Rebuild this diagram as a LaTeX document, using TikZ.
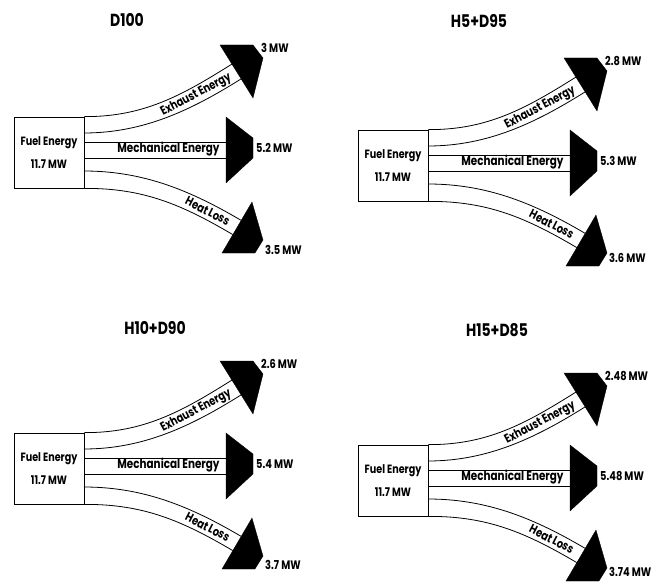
\documentclass[tikz,border=0pt]{standalone}
\usepackage{fontspec}
\setmainfont{Poppins}[FakeStretch=0.8]
\begin{document}
\begin{tikzpicture}[x=1pt,y=-1pt]
\tikzset{
  band/.style={draw=black, line width=0.8pt},
  head/.style={fill=black, draw=black, line width=0.3pt},
  lab/.style={font=\bfseries\fontsize{13}{15}\selectfont, inner sep=0pt},
  slab/.style={font=\bfseries\fontsize{12.3}{14}\selectfont, inner sep=0pt, sloped},
  mw/.style={font=\bfseries\fontsize{12.3}{14}\selectfont, anchor=west, inner sep=0pt},
  ttl/.style={font=\bfseries\fontsize{17.5}{20}\selectfont, inner sep=0pt},
  fuelbox/.style={draw, line width=0.8pt, minimum width=70pt, minimum height=71pt,
    inner sep=0pt, align=center, font=\bfseries\fontsize{12}{13}\selectfont}
}
\useasboundingbox[fill=white] (0,0) rectangle (662,583);
\newcommand\sankeypanel[7]{%
\begin{scope}[shift={(#2,#3)}]
  \node[fuelbox] (fuel#1) at (49,152.5) {Fuel Energy\\[10pt]11.7 MW};
  % arrow heads
  \filldraw[head] (220,45) -- (253,45) -- (263,58) -- (253,98) -- cycle;
  \filldraw[head] (226,117) -- (253,138) -- (253,158) -- (226,183) -- cycle;
  \filldraw[head] (252,202) -- (263,240) -- (255,253) -- (222,253) -- cycle;
  \coordinate (ex#1) at (236.5,71.5);
  \coordinate (me#1) at (226,150);
  \coordinate (he#1) at (237,227.5);
  % exhaust band
  \draw[band] (fuel#1.north east) .. controls (144,117) and (182.9,94.8) .. (231.9,64.1);
  \draw[band] (84,133) .. controls (144,133) and (192.1,109.6) .. (241.1,78.9);
  \path (84,125) .. controls (144,125) and (187.5,102.2) .. (ex#1)
     node[slab, pos=0.72] {Exhaust Energy};
  % mechanical band
  \draw[band] (84,142) -- (me#1 |- 0,142);
  \draw[band] (84,158) -- (me#1 |- 0,158);
  \node[lab] (ml#1) at (168.5,149.5) {Mechanical Energy};
  % heat band
  \draw[band] (84,171) .. controls (144,171) and (191.2,191) .. (241.2,220.4);
  \draw[band] (fuel#1.south east) .. controls (144,188) and (182.8,205.2) .. (232.8,234.6);
  \path (84,179.5) .. controls (144,179.5) and (187,198) .. (he#1)
     node[slab, pos=0.8] {Heat Loss};
  % values
  \node[mw] (v1#1) at (261,48) {#4};
  \node[mw] (v2#1) at (256,148) {#5};
  \node[mw] (v3#1) at (265,#7) {#6};
\end{scope}}
\sankeypanel{a}{0}{0}{3 MW}{5.2 MW}{3.5 MW}{250}
\sankeypanel{b}{344}{13}{2.8 MW}{5.3 MW}{3.6 MW}{245}
\sankeypanel{c}{0}{316}{2.6 MW}{5.4 MW}{3.7 MW}{249}
\sankeypanel{d}{344}{328}{2.48 MW}{5.48 MW}{3.74 MW}{244}
\node[ttl] (ta) at (127,20) {D100};
\node[ttl] (tb) at (479,21) {H5+D95};
\node[ttl] (tc) at (155,328) {H10+D90};
\node[ttl] (td) at (497,330) {H15+D85};
\end{tikzpicture}
\end{document}
